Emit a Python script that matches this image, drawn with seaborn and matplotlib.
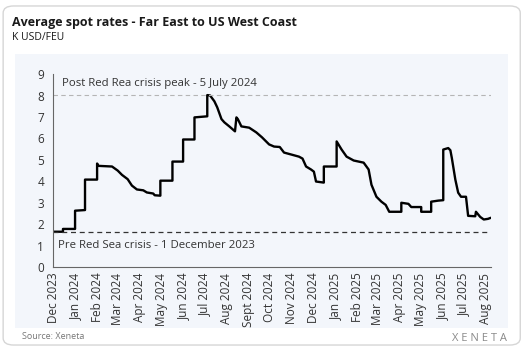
import matplotlib
matplotlib.use("Agg")
import matplotlib.pyplot as plt
from matplotlib.patches import FancyBboxPatch
import pandas as pd
import seaborn as sns

# spot rate, K USD/FEU
dates = ["2023-12-01", "2023-12-15", "2023-12-15", "2024-01-01", "2024-01-01", "2024-01-15",
         "2024-01-15", "2024-02-01", "2024-02-01", "2024-02-03", "2024-02-22", "2024-03-01",
         "2024-03-07", "2024-03-15", "2024-03-21", "2024-03-28", "2024-04-06", "2024-04-11",
         "2024-04-20", "2024-04-22", "2024-04-30", "2024-04-30", "2024-05-17", "2024-05-17",
         "2024-06-01", "2024-06-01", "2024-06-17", "2024-06-17", "2024-07-05", "2024-07-05",
         "2024-07-09", "2024-07-15", "2024-07-19", "2024-07-25", "2024-07-29", "2024-08-05",
         "2024-08-13", "2024-08-15", "2024-08-17", "2024-08-22", "2024-09-02", "2024-09-12",
         "2024-09-20", "2024-09-30", "2024-10-07", "2024-10-15", "2024-10-21", "2024-10-31",
         "2024-11-11", "2024-11-16", "2024-11-21", "2024-11-28", "2024-12-02", "2024-12-05",
         "2024-12-16", "2024-12-16", "2025-01-03", "2025-01-03", "2025-01-10", "2025-01-17",
         "2025-01-27", "2025-02-10", "2025-02-17", "2025-02-21", "2025-02-28", "2025-03-07",
         "2025-03-13", "2025-03-18", "2025-04-04", "2025-04-04", "2025-04-14", "2025-04-18",
         "2025-05-02", "2025-05-02", "2025-05-16", "2025-05-16", "2025-05-26", "2025-06-02",
         "2025-06-02", "2025-06-09", "2025-06-12", "2025-06-14", "2025-06-19", "2025-06-23",
         "2025-06-27", "2025-07-04", "2025-07-07", "2025-07-17", "2025-07-18", "2025-07-24",
         "2025-07-29", "2025-08-04", "2025-08-08"]
rates = [1.65, 1.65, 1.78, 1.78, 2.63, 2.66,
         4.08, 4.08, 4.83, 4.72, 4.69, 4.50,
         4.30, 4.10, 3.80, 3.62, 3.58, 3.48,
         3.43, 3.35, 3.33, 4.03, 4.03, 4.92,
         4.92, 5.95, 5.95, 6.98, 7.03, 8.02,
         8.00, 7.73, 7.45, 6.90, 6.75, 6.56,
         6.33, 6.98, 6.90, 6.56, 6.50, 6.28,
         6.05, 5.72, 5.62, 5.60, 5.34, 5.25,
         5.15, 5.06, 4.69, 4.55, 4.45, 3.99,
         3.94, 4.69, 4.69, 5.86, 5.48, 5.15,
         4.97, 4.87, 4.55, 3.84, 3.28, 3.05,
         2.90, 2.58, 2.58, 3.00, 2.95, 2.80,
         2.80, 2.58, 2.58, 3.05, 3.10, 3.12,
         5.48, 5.55, 5.45, 5.10, 4.08, 3.47,
         3.28, 3.28, 2.39, 2.37, 2.58, 2.34,
         2.22, 2.25, 2.30]

peak_level = 8.02
pre_crisis_level = 1.65
tick_months = pd.date_range("2023-12-01", "2025-08-01", freq="MS")
tick_labels = [d.strftime("%b %Y").replace("Sep ", "Sept ") for d in tick_months]

df = pd.DataFrame({"date": pd.to_datetime(dates), "rate": rates})

sns.set_style("white")
plt.rcParams["font.family"] = ["Open Sans", "DejaVu Sans"]

fig = plt.figure(figsize=(5.25, 3.51), dpi=100)
fig.patch.set_facecolor("white")

# card + inner panel (behind the axes)
fig.patches.append(FancyBboxPatch((0.006, 0.017), 0.985, 0.966,
                                  boxstyle="round,pad=0,rounding_size=0.02",
                                  transform=fig.transFigure, facecolor="white",
                                  edgecolor="#d6d6d6", linewidth=1.0, zorder=-10))
fig.patches.append(FancyBboxPatch((0.029, 0.066), 0.939, 0.78,
                                  boxstyle="square,pad=0", transform=fig.transFigure,
                                  facecolor="#f3f6fb", edgecolor="none", zorder=-9))

ax = fig.add_axes([0.101, 0.239, 0.834, 0.55])
ax.set_facecolor("none")

sns.lineplot(data=df, x="date", y="rate", ax=ax, color="black", linewidth=1.7,
             estimator=None, sort=False)

ax.axhline(peak_level, color="#b5b5b5", linestyle=(0, (4, 3)), linewidth=0.8)
ax.axhline(pre_crisis_level, color="#333333", linestyle=(0, (4, 3)), linewidth=0.9)

ax.text(0.02, 8.55, "Post Red Rea crisis peak - 5 July 2024", transform=ax.get_yaxis_transform(),
        fontsize=8.2, color="#333333", va="center", ha="left")
ax.text(0.012, 1.03, "Pre Red Sea crisis - 1 December 2023", transform=ax.get_yaxis_transform(),
        fontsize=8.2, color="#333333", va="center", ha="left")

ax.set_xlim(df["date"].min(), df["date"].max())
ax.set_ylim(0, 9)
ax.set_yticks(range(0, 10))
ax.set_xticks(tick_months)
ax.set_xticklabels(tick_labels, rotation=90, fontsize=8.5, color="#333333")
ax.tick_params(axis="y", labelsize=8.5, colors="#333333", length=3, width=0.6)
ax.tick_params(axis="x", length=2, width=0.6, pad=2)
ax.set_xlabel("")
ax.set_ylabel("")
for s in ["top", "right"]:
    ax.spines[s].set_visible(False)
for s in ["left", "bottom"]:
    ax.spines[s].set_color("#666666")
    ax.spines[s].set_linewidth(0.8)

fig.text(0.023, 0.925, "Average spot rates - Far East to US West Coast", fontsize=9,
         fontweight="bold", color="#1a1a1a")
fig.text(0.023, 0.885, "K USD/FEU", fontsize=7.5, color="#1a1a1a")
fig.text(0.042, 0.033, "Source: Xeneta", fontsize=6.5, color="#777777")
fig.text(0.965, 0.028, "X E N E T A", fontsize=8, color="#8a8a8a", ha="right")

fig.savefig("out.png", dpi=100)
